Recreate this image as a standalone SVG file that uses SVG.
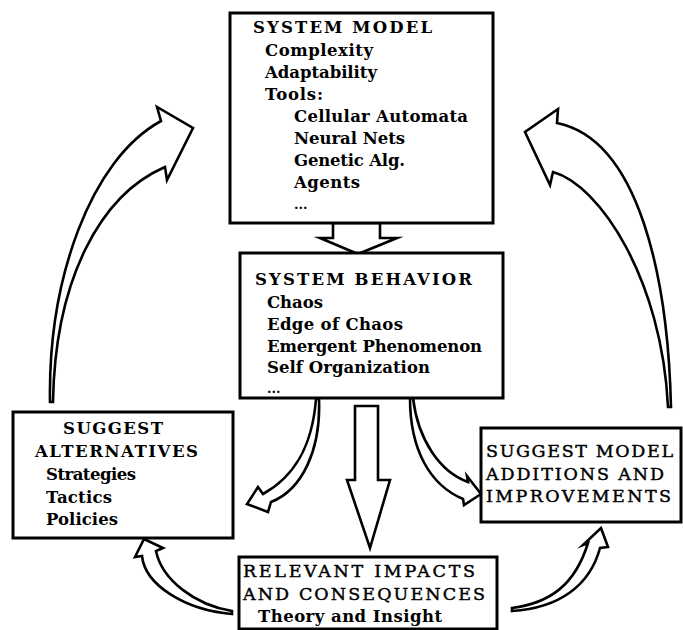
<svg xmlns="http://www.w3.org/2000/svg" width="683" height="630" viewBox="0 0 683 630">
<style>
.box{fill:#fff;stroke:#000;stroke-width:3}
.arr{fill:#fff;stroke:#000;stroke-width:2.6;stroke-linejoin:miter;stroke-miterlimit:6}
text{font-family:"DejaVu Serif","Liberation Serif",serif;font-size:16.5px;font-weight:bold;fill:#000}
.big{font-size:17.5px}
.med{font-weight:normal;stroke:#000;stroke-width:0.45}
.dots{font-size:13px}
</style>
<rect width="683" height="630" fill="#fff"/>
<g id="connectors">
<path class="arr" d="M333,223 L333,238 L320,238 L358,254 L397,238 L380,238 L380,223 Z"/>
<path class="arr" d="M355,406 L355,480 L347,480 L370,548 L390,480 L378,480 L378,406 Z"/>
<path class="arr" d="M50,402 C48,280 90,160 161,121 L157,107 L193,128 L167,180 L165,167 C100,195 55,280 53,402 Z"/>
<path class="arr" d="M671,407 C668,280 640,140 557,123 L558,109 L525,132 L550,185 L553,172 C600,185 662,280 668,407 Z"/>
<path class="arr" d="M319,399 C321,450 302,490 271,502 L268,512 L247,504 L258,487 L263,494 C292,478 312,450 316,399 Z"/>
<path class="arr" d="M410,398 C410,450 430,485 463,499 L464,505 L481,494 L467,476 L468,482 C440,472 418,440 413,398 Z"/>
<path class="arr" d="M232,614 C185,610 145,585 142,556 L135,557 L144,539 L163,548 L156,551 C162,580 195,605 232,611 Z"/>
<path class="arr" d="M512,611 C560,608 590,585 600,548 L608,547 L601,528 L583,545 L588,543 C575,585 550,603 512,608 Z"/>
</g>
<g id="system-model">
<rect class="box" x="230" y="13" width="263" height="210"/>
<text x="253" y="33" textLength="179" lengthAdjust="spacing">SYSTEM MODEL</text>
<text x="265" y="56" textLength="108" lengthAdjust="spacing">Complexity</text>
<text x="265" y="78" textLength="112" lengthAdjust="spacing">Adaptability</text>
<text x="265" y="100" textLength="58" lengthAdjust="spacing">Tools:</text>
<text x="294" y="122" textLength="174" lengthAdjust="spacing">Cellular Automata</text>
<text x="294" y="144" textLength="111" lengthAdjust="spacing">Neural Nets</text>
<text x="294" y="166" textLength="111" lengthAdjust="spacing">Genetic Alg.</text>
<text x="294" y="188" textLength="66" lengthAdjust="spacing">Agents</text>
<text class="dots" x="294" y="209">...</text>
</g>
<g id="system-behavior">
<rect class="box" x="240" y="253" width="263" height="145"/>
<text x="255" y="285" textLength="217" lengthAdjust="spacing">SYSTEM BEHAVIOR</text>
<text x="267" y="308" textLength="56" lengthAdjust="spacing">Chaos</text>
<text x="267" y="330" textLength="136" lengthAdjust="spacing">Edge of Chaos</text>
<text x="267" y="352" textLength="215" lengthAdjust="spacing">Emergent Phenomenon</text>
<text x="267" y="373" textLength="163" lengthAdjust="spacing">Self Organization</text>
<text class="dots" x="267" y="393">...</text>
</g>
<g id="suggest-alternatives">
<rect class="box" x="13" y="412" width="220" height="126"/>
<text x="63" y="434" textLength="100" lengthAdjust="spacing">SUGGEST</text>
<text x="35" y="457" textLength="163" lengthAdjust="spacing">ALTERNATIVES</text>
<text x="46" y="480" textLength="90" lengthAdjust="spacing">Strategies</text>
<text x="46" y="503" textLength="66" lengthAdjust="spacing">Tactics</text>
<text x="46" y="525" textLength="72" lengthAdjust="spacing">Policies</text>
</g>
<g id="suggest-model">
<rect class="box" x="481" y="428" width="200" height="94"/>
<text class="big med" x="486" y="457" textLength="187" lengthAdjust="spacing">SUGGEST MODEL</text>
<text class="big med" x="486" y="480" textLength="178" lengthAdjust="spacing">ADDITIONS AND</text>
<text class="big med" x="486" y="502" textLength="185" lengthAdjust="spacing">IMPROVEMENTS</text>
</g>
<g id="relevant-impacts">
<rect class="box" x="239" y="557" width="258" height="72"/>
<text class="big med" x="243" y="577" textLength="232" lengthAdjust="spacing">RELEVANT IMPACTS</text>
<text class="big med" x="243" y="600" textLength="242" lengthAdjust="spacing">AND CONSEQUENCES</text>
<text x="258" y="622" textLength="184" lengthAdjust="spacing">Theory and Insight</text>
</g>
</svg>
